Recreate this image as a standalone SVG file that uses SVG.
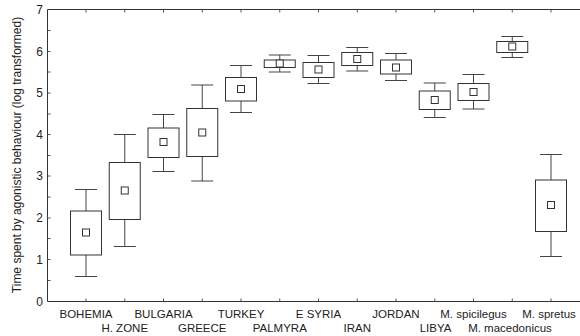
<svg xmlns="http://www.w3.org/2000/svg" width="580" height="336" viewBox="0 0 580 336">
<style>
.ax{stroke:#333;stroke-width:1;fill:none}
.tk{stroke:#555;stroke-width:1}
.bx{stroke:#333;stroke-width:1;fill:#fff}
.wh{stroke:#444;stroke-width:1}
.mn{stroke:#333;stroke-width:1;fill:#fff}
.yl{font-family:"Liberation Sans",Arial,sans-serif;font-size:12px;fill:#222;text-anchor:end}
.xl{font-family:"Liberation Sans",Arial,sans-serif;font-size:11.5px;fill:#222;text-anchor:middle}
.tt{font-family:"Liberation Sans",Arial,sans-serif;font-size:12px;fill:#222;text-anchor:middle}
</style>
<rect width="580" height="336" fill="#fff"/>
<g id="axes">
<path class="ax" d="M47.5 9.5H580M47.5 9.5V301.5H580"/>
<path class="tk" d="M47.5 30.5h3M47.5 51.5h3M47.5 72h3M47.5 93h3M47.5 114h3M47.5 134.5h3M47.5 155.5h3M47.5 176h3M47.5 197h3M47.5 218h3M47.5 238.5h3M47.5 259.5h3M47.5 280.5h3"/>
<path class="tk" d="M86 301.5v-3M124.75 301.5v-3M163.5 301.5v-3M202.25 301.5v-3M241 301.5v-3M279.75 301.5v-3M318.5 301.5v-3M357.25 301.5v-3M396 301.5v-3M434.75 301.5v-3M473.5 301.5v-3M512.25 301.5v-3M551 301.5v-3"/>
<path class="tk" d="M86 9.5v3M124.75 9.5v3M163.5 9.5v3M202.25 9.5v3M241 9.5v3M279.75 9.5v3M318.5 9.5v3M357.25 9.5v3M396 9.5v3M434.75 9.5v3M473.5 9.5v3M512.25 9.5v3M551 9.5v3"/>
<text class="yl" x="43" y="13.5">7</text>
<text class="yl" x="43" y="55.5">6</text>
<text class="yl" x="43" y="97">5</text>
<text class="yl" x="43" y="138.5">4</text>
<text class="yl" x="43" y="180">3</text>
<text class="yl" x="43" y="222">2</text>
<text class="yl" x="43" y="263.5">1</text>
<text class="yl" x="43" y="305.5">0</text>
<text class="tt" transform="translate(21 155) rotate(-90)">Time spent by agonistic behaviour (log transformed)</text>
</g>
<g id="labels">
<text class="xl" x="86" y="317.5">BOHEMIA</text>
<text class="xl" x="124.75" y="331.5">H. ZONE</text>
<text class="xl" x="163.5" y="317.5">BULGARIA</text>
<text class="xl" x="202.25" y="331.5">GREECE</text>
<text class="xl" x="241" y="317.5">TURKEY</text>
<text class="xl" x="279.75" y="331.5">PALMYRA</text>
<text class="xl" x="318.5" y="317.5">E SYRIA</text>
<text class="xl" x="357.25" y="331.5">IRAN</text>
<text class="xl" x="396" y="317.5">JORDAN</text>
<text class="xl" x="435.5" y="331.5">LIBYA</text>
<text class="xl" x="473.5" y="317.5">M. spicilegus</text>
<text class="xl" x="510" y="331.5">M. macedonicus</text>
<text class="xl" x="549" y="317.5">M. spretus</text>
</g>
<g id="bohemia"><path class="wh" d="M86 189.5V276.5M75 189.5h22M75 276.5h22"/><rect class="bx" x="70.5" y="211" width="31" height="44"/><rect class="mn" x="82.5" y="229" width="7" height="7"/></g>
<g id="hzone"><path class="wh" d="M124.75 134.5V246.5M113.75 134.5h22M113.75 246.5h22"/><rect class="bx" x="109.25" y="162.5" width="31" height="57"/><rect class="mn" x="121.25" y="187" width="7" height="7"/></g>
<g id="bulgaria"><path class="wh" d="M163.5 114.5V171.5M152.5 114.5h22M152.5 171.5h22"/><rect class="bx" x="148" y="128" width="31" height="29.5"/><rect class="mn" x="160" y="138.5" width="7" height="7"/></g>
<g id="greece"><path class="wh" d="M202.25 85V181M191.25 85h22M191.25 181h22"/><rect class="bx" x="186.75" y="108.5" width="31" height="48"/><rect class="mn" x="198.75" y="129" width="7" height="7"/></g>
<g id="turkey"><path class="wh" d="M241 65.5V112.5M230 65.5h22M230 112.5h22"/><rect class="bx" x="225.5" y="77.5" width="31" height="23.5"/><rect class="mn" x="237.5" y="85.5" width="7" height="7"/></g>
<g id="palmyra"><path class="wh" d="M279.75 55V72M268.75 55h22M268.75 72h22"/><rect class="bx" x="264.25" y="60" width="31" height="7.5"/><rect class="mn" x="276.25" y="60" width="7" height="7"/></g>
<g id="esyria"><path class="wh" d="M318.5 55.5V83.5M307.5 55.5h22M307.5 83.5h22"/><rect class="bx" x="303" y="62.5" width="31" height="15"/><rect class="mn" x="315" y="66" width="7" height="7"/></g>
<g id="iran"><path class="wh" d="M357.25 47.5V71M346.25 47.5h22M346.25 71h22"/><rect class="bx" x="341.75" y="52.5" width="31" height="13"/><rect class="mn" x="353.75" y="55.5" width="7" height="7"/></g>
<g id="jordan"><path class="wh" d="M396 53.5V80.5M385 53.5h22M385 80.5h22"/><rect class="bx" x="380.5" y="60" width="31" height="14"/><rect class="mn" x="392.5" y="64" width="7" height="7"/></g>
<g id="libya"><path class="wh" d="M434.75 83V117.5M423.75 83h22M423.75 117.5h22"/><rect class="bx" x="419.25" y="91" width="31" height="18.5"/><rect class="mn" x="431.25" y="96.5" width="7" height="7"/></g>
<g id="mspicilegus"><path class="wh" d="M473.5 74.5V109M462.5 74.5h22M462.5 109h22"/><rect class="bx" x="458" y="83.5" width="31" height="17"/><rect class="mn" x="470" y="88.5" width="7" height="7"/></g>
<g id="mmacedonicus"><path class="wh" d="M512.25 36.5V57.5M501.25 36.5h22M501.25 57.5h22"/><rect class="bx" x="496.75" y="41.5" width="31" height="11"/><rect class="mn" x="508.75" y="43" width="7" height="7"/></g>
<g id="mspretus"><path class="wh" d="M551 154.5V256.5M540 154.5h22M540 256.5h22"/><rect class="bx" x="535.5" y="180" width="31" height="51.5"/><rect class="mn" x="547.5" y="201.5" width="7" height="7"/></g>
</svg>
